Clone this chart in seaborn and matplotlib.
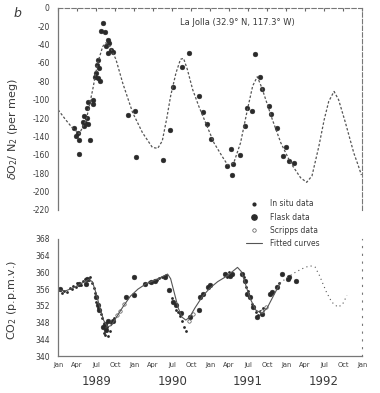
import numpy as np
import pandas as pd
import matplotlib
matplotlib.use("Agg")
import matplotlib.pyplot as plt
import seaborn as sns
from matplotlib.lines import Line2D

# ---- data (decimal years) ----
# O2/N2 fitted curve, per meg
o2_curve_t = [1989.00, 1989.10, 1989.19, 1989.28, 1989.37, 1989.455, 1989.52, 1989.587,
              1989.63, 1989.68, 1989.76, 1989.85, 1989.98, 1990.11, 1990.24, 1990.31,
              1990.37, 1990.43, 1990.48, 1990.55, 1990.61, 1990.65, 1990.70, 1990.77,
              1990.85, 1990.94, 1991.05, 1991.16, 1991.23, 1991.31, 1991.40, 1991.49,
              1991.56, 1991.62, 1991.68, 1991.82, 1991.93, 1992.06, 1992.19, 1992.27,
              1992.34, 1992.43, 1992.50, 1992.56, 1992.63, 1992.69, 1992.78, 1992.89,
              1992.95, 1992.99]
o2_curve_v = [-111, -122, -131, -137, -122, -89, -60, -42,
              -38, -42, -56, -82, -114, -136, -152, -153,
              -145, -120, -96, -71, -56, -55, -67, -89,
              -107, -125, -147, -162, -171, -169, -147, -111,
              -85, -75, -87, -122, -147, -169, -185, -190,
              -183, -151, -122, -102, -91, -100, -125, -158,
              -172, -182]

# O2/N2 flask data
o2_flask_t = [1989.214, 1989.236, 1989.258, 1989.27, 1989.27, 1989.324, 1989.345, 1989.345,
              1989.358, 1989.377, 1989.377, 1989.39, 1989.39, 1989.42, 1989.455, 1989.463,
              1989.49, 1989.50, 1989.508, 1989.52, 1989.52, 1989.534, 1989.55, 1989.564,
              1989.587, 1989.61, 1989.63, 1989.652, 1989.652, 1989.674, 1989.696, 1989.718,
              1989.915, 1990.015, 1990.02, 1990.374, 1990.474, 1990.514, 1990.636, 1990.724,
              1990.854, 1990.90, 1990.965, 1991.008, 1991.218, 1991.28, 1991.283, 1991.306,
              1991.388, 1991.454, 1991.48, 1991.546, 1991.59, 1991.655, 1991.677, 1991.773,
              1991.795, 1991.874, 1991.962, 1991.992, 1992.036, 1992.101]
o2_flask_v = [-131, -140, -136, -144, -159, -124, -118, -129,
              -125, -120, -109, -127, -103, -144, -100, -105,
              -75, -71, -62, -57, -76, -66, -80, -25,
              -17, -26, -42, -35, -49, -38, -46, -48,
              -117, -112, -162, -166, -133, -86, -64, -49,
              -96, -113, -126, -143, -172, -154, -182, -170,
              -160, -129, -109, -112, -50, -75, -88, -107,
              -116, -131, -161, -151, -167, -169]

# CO2 fitted curve, ppmv
co2_curve_t = [1989.00, 1989.10, 1989.20, 1989.30, 1989.40, 1989.45, 1989.50, 1989.55,
               1989.60, 1989.65, 1989.70, 1989.75, 1989.85, 1989.95, 1990.05, 1990.15,
               1990.25, 1990.35, 1990.44, 1990.48, 1990.53, 1990.58, 1990.63, 1990.68,
               1990.73, 1990.80, 1990.90, 1991.00, 1991.10, 1991.20, 1991.30, 1991.36,
               1991.41, 1991.46, 1991.52, 1991.60, 1991.68, 1991.75, 1991.85, 1991.92]
co2_curve_v = [355.8, 355.6, 356.3, 357.3, 358.3, 357.8, 355.0, 351.5,
               348.5, 347.0, 347.3, 348.8, 351.7, 354.3, 356.0, 357.2,
               358.0, 358.8, 359.6, 358.5, 355.0, 351.5, 349.3, 348.6,
               349.3, 351.5, 354.3, 356.3, 357.8, 358.9, 360.3, 361.2,
               360.2, 357.5, 354.0, 351.0, 350.2, 351.5, 355.0, 357.4]
# extrapolated part (drawn dotted)
co2_extra_t = [1991.92, 1992.00, 1992.10, 1992.20, 1992.31, 1992.38, 1992.44, 1992.53,
               1992.60, 1992.68, 1992.74, 1992.80]
co2_extra_v = [357.4, 358.6, 359.8, 360.8, 361.6, 361.3, 359.2, 355.3,
               352.9, 351.7, 352.3, 354.5]

co2_flask_t = [1989.02, 1989.27, 1989.36, 1989.38, 1989.50, 1989.52, 1989.54, 1989.59,
               1989.61, 1989.63, 1989.65, 1989.72, 1989.89, 1990.00, 1990.00, 1990.14,
               1990.22, 1990.27, 1990.40, 1990.46, 1990.51, 1990.55, 1990.62, 1990.73,
               1990.85, 1990.86, 1990.90, 1990.97, 1991.00, 1991.20, 1991.26, 1991.29,
               1991.42, 1991.46, 1991.49, 1991.52, 1991.57, 1991.62, 1991.68, 1991.79,
               1991.81, 1991.88, 1991.95, 1992.02, 1992.04, 1992.13]
co2_flask_v = [356.0, 357.2, 357.2, 358.4, 354.1, 352.1, 350.9, 346.9,
               347.7, 346.2, 348.5, 348.5, 354.1, 358.8, 354.5, 357.2,
               357.6, 358.0, 358.8, 355.7, 352.9, 352.1, 350.3, 349.3,
               350.9, 354.1, 354.9, 356.5, 356.9, 359.6, 359.2, 359.6,
               359.6, 358.0, 354.9, 354.1, 351.7, 349.3, 350.1, 354.9,
               355.3, 356.5, 359.6, 358.4, 358.8, 358.0]

co2_insitu_t = [1989.05, 1989.08, 1989.12, 1989.15, 1989.18, 1989.20, 1989.23, 1989.25,
                1989.30, 1989.33, 1989.35, 1989.40, 1989.42, 1989.44, 1989.47, 1989.48,
                1989.50, 1989.53, 1989.56, 1989.58, 1989.60, 1989.62, 1989.64, 1989.66,
                1989.68, 1989.70, 1989.74, 1990.20, 1990.30, 1990.33, 1990.36, 1990.42,
                1990.50, 1990.55, 1990.58, 1990.60, 1990.63, 1990.66, 1990.68, 1991.22,
                1991.25, 1991.28, 1991.44, 1991.47, 1991.50, 1991.55, 1991.60, 1991.63,
                1991.66, 1991.70, 1991.90]
co2_insitu_v = [355.0, 355.6, 355.4, 356.2, 356.0, 356.8, 356.4, 357.5,
                357.0, 357.9, 358.5, 358.2, 359.0, 357.5, 356.2, 355.0,
                353.0, 351.5, 350.0, 349.0, 345.5, 345.0, 347.0, 344.8,
                346.0, 347.8, 349.0, 357.8, 358.2, 358.6, 359.0, 359.4,
                354.0, 351.0, 350.6, 349.5, 348.4, 347.0, 346.0, 359.0,
                360.0, 359.8, 359.0, 356.5, 355.5, 352.5, 350.5, 349.8,
                350.8, 351.5, 357.5]

co2_scripps_t = [1989.78, 1989.82, 1989.86, 1990.72, 1990.77, 1991.68, 1991.73]
co2_scripps_v = [349.8, 350.8, 352.5, 348.5, 350.0, 350.8, 351.8]

months = ["Jan", "Apr", "Jul", "Oct"] * 4 + ["Jan"]
years = ["1989", "1990", "1991", "1992"]

# ---- plotting ----
sns.set_style("white")
plt.rcParams["font.family"] = ["DejaVu Sans"]
ink = "#3a3a3a"

fig = plt.figure(figsize=(3.8, 3.93), dpi=100)
ax1 = fig.add_axes([0.153, 0.466, 0.800, 0.514])
ax2 = fig.add_axes([0.153, 0.094, 0.800, 0.298])

# top panel
sns.lineplot(x=o2_curve_t, y=o2_curve_v, ax=ax1, color="#555555", lw=0.9,
             linestyle=(0, (2, 1.5)), sort=False)
sns.scatterplot(x=o2_flask_t, y=o2_flask_v, ax=ax1, color="#2a2a2a", s=12,
                marker="o", edgecolor="#2a2a2a", linewidth=0.3)
ax1.set_xlim(1989, 1993)
ax1.set_ylim(-220, 0)
ax1.set_yticks(np.arange(-220, 1, 20))
ax1.set_yticklabels([f"{v:d}" for v in np.arange(-220, 1, 20)], fontsize=5.5, color=ink)
ax1.set_xticks(np.arange(1989, 1993.01, 0.25))
ax1.tick_params(axis="x", direction="in", length=2, labelbottom=False, bottom=False,
                top=True, color="#666666")
ax1.tick_params(axis="y", direction="out", length=2, color="#666666", pad=4)
ax1.spines["bottom"].set_visible(False)
for s in ["top", "right"]:
    ax1.spines[s].set_linestyle((0, (4, 2)))
    ax1.spines[s].set_color("#777777")
    ax1.spines[s].set_linewidth(0.8)
ax1.spines["left"].set_color("#777777")
ax1.spines["left"].set_linewidth(0.9)
ax1.set_ylabel(r"$\delta$O$_2$/ N$_2$ (per meg)", fontsize=8, color=ink)
ax1.yaxis.set_label_coords(-0.125, 0.40)
ax1.text(0.40, 0.915, "La Jolla (32.9° N, 117.3° W)", transform=ax1.transAxes,
         fontsize=6, color=ink)
fig.text(0.035, 0.958, "b", fontsize=9, style="italic", color=ink)

# bottom panel
sns.lineplot(x=co2_curve_t, y=co2_curve_v, ax=ax2, color="#555555", lw=0.8, sort=False)
sns.lineplot(x=co2_extra_t, y=co2_extra_v, ax=ax2, color="#555555", lw=0.8,
             linestyle=(0, (1, 3)), sort=False)
sns.scatterplot(x=co2_insitu_t, y=co2_insitu_v, ax=ax2, color="#2a2a2a", s=4,
                marker="o", linewidth=0)
sns.scatterplot(x=co2_flask_t, y=co2_flask_v, ax=ax2, color="#2a2a2a", s=12,
                marker="o", edgecolor="#2a2a2a", linewidth=0.3)
sns.scatterplot(x=co2_scripps_t, y=co2_scripps_v, ax=ax2, facecolor="white", s=6,
                marker="o", edgecolor="#555555", linewidth=0.5)
ax2.set_xlim(1989, 1993)
ax2.set_ylim(340, 368)
ax2.set_yticks(np.arange(340, 369, 4))
ax2.set_yticklabels([str(v) for v in range(340, 369, 4)], fontsize=5.5, color=ink)
ax2.set_xticks(np.arange(1989, 1993.01, 0.25))
ax2.set_xticklabels(months, fontsize=4.8, color=ink)
ax2.tick_params(axis="x", direction="in", length=2, color="#666666", pad=4)
ax2.tick_params(axis="y", direction="out", length=2, color="#666666", pad=4)
ax2.spines["top"].set_visible(False)
ax2.spines["right"].set_linestyle((0, (1, 6)))
ax2.spines["right"].set_color("#777777")
for s in ["left", "bottom"]:
    ax2.spines[s].set_color("#777777")
    ax2.spines[s].set_linewidth(0.9)
ax2.set_ylabel(r"CO$_2$ (p.p.m.v.)", fontsize=8, color=ink)
ax2.yaxis.set_label_coords(-0.13, 0.48)
for i, yr in enumerate(years):
    ax2.text(1989.5 + i, -0.215, yr, transform=ax2.get_xaxis_transform(),
             ha="center", va="center", fontsize=8.5, color=ink)

handles = [
    Line2D([], [], marker="o", ls="none", color="#2a2a2a", markersize=2),
    Line2D([], [], marker="o", ls="none", color="#2a2a2a", markersize=3.8),
    Line2D([], [], marker="o", ls="none", markerfacecolor="white",
           markeredgecolor="#555555", markersize=2.5, markeredgewidth=0.5),
    Line2D([], [], color="#555555", lw=0.8),
]
labels = ["In situ data", "Flask data", "Scripps data", "Fitted curves"]
fig.legend(handles, labels, loc="upper left", bbox_to_anchor=(0.628, 0.51),
           frameon=False, fontsize=5.5, handlelength=2.2, labelspacing=0.55,
           handletextpad=1.0, labelcolor=ink)

fig.savefig("out.png", dpi=100)
